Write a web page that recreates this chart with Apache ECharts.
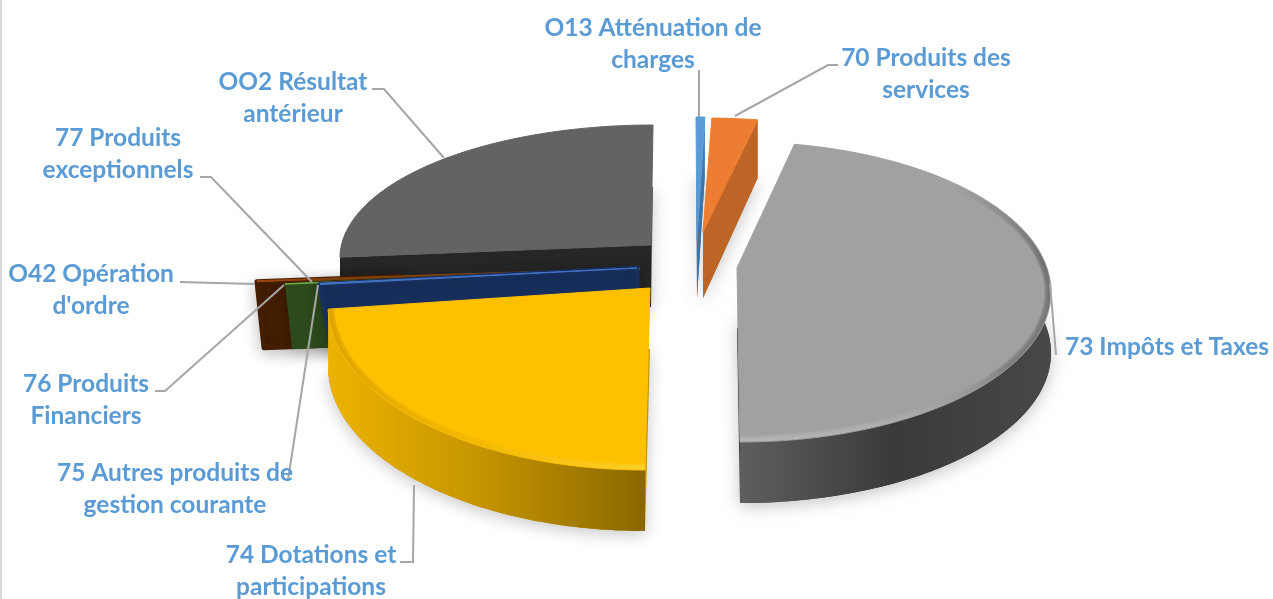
<!DOCTYPE html>
<html><head><meta charset="utf-8">
<style>html,body{margin:0;padding:0;background:#fff}#c{width:1273px;height:599px}</style>
<script src="https://cdn.jsdelivr.net/npm/echarts@6/dist/echarts.min.js"></script>
</head><body><div id="c"></div>
<script>
// ---- data (share of total, %)
const categories = ["O13 Atténuation de charges","70 Produits des services","73 Impôts et Taxes","74 Dotations et participations","75 Autres produits de gestion courante","76 Produits Financiers","O42 Opération d'ordre","77 Produits exceptionnels","OO2 Résultat antérieur"];
const shares = [0.45,2.35,47.2,24.6,0.2,0.1,0.15,0.05,24.9];
const labelLines = [["O13 Atténuation de","charges"],["70 Produits des","services"],["73 Impôts et Taxes"],["74 Dotations et","participations"],["75 Autres produits de","gestion courante"],["76 Produits","Financiers"],["O42 Opération","d'ordre"],["77 Produits","exceptionnels"],["OO2 Résultat","antérieur"]];

// ---- layout and styles (separate from the values)
const drawOrder = [8,6,7,5,4,3,0,1,2];
const geom = [
 {ax:697,ay:240,cx:696,cy:241,rx:313,ry:124,h:58,skew:0,top:'#5b9bd5',wall:'#3f78ad',cut:'end'},
 {ax:703,ay:232,cx:703,cy:238,rx:313,ry:120,h:66,hEnd:58,skew:0,top:'#ed7d31',wall:'#bd6427',cut:'end'},
 {ax:737,ay:268,cx:740,cy:292,rx:311,ry:150,h:61,skew:0,top:'#a1a1a1',wall:['#5e5e5e','#3a3a3a','#484848'],
  bevel:{dir:'v',stops:[[0,'rgba(70,70,70,0)'],[0.3,'rgba(70,70,70,0.38)'],[0.7,'rgba(70,70,70,0.25)'],[1,'rgba(255,255,255,0.12)']]}},
 {ax:650,ay:288,cx:645,cy:305,rx:317,ry:165,h:61,skew:0,top:'#ffc000',wall:['#eeb300','#c39300','#8a6800'],
  bevel:{dir:'h',stops:[[0,'rgba(205,150,0,0.55)'],[0.4,'rgba(225,170,0,0.3)'],[1,'rgba(255,225,90,0.35)']]}},
 {ax:637,ay:268,cx:635,cy:282,rx:315,ry:100,h:66,skew:12,top:'#4472c4',wall:'#162f5c',cut:'start',noFace:true,round:5},
 {ax:640,ay:269,wx:400,cx:640,cy:283,rx:355,ry:100,h:65,skew:7,top:'#70ad47',wall:'#2c4a1c',cut:'start',noFace:true},
 {ax:640,ay:268,wx:400,cx:640,cy:281,rx:383,ry:100,h:66,skew:7,top:'#9e480e',wall:'#431e02',cut:'start',noFace:true,round:5},
 {ax:640,ay:268,cx:640,cy:281,rx:328,ry:100,h:0,skew:0,top:'#7a4a10',wall:'#7a4a10'},
 {ax:651,ay:245,cx:653,cy:258,rx:313,ry:133,h:62,skew:0,top:'#636363',wall:'#262626',cut:'start',face:'#505050'}
];
const labelPos = [[653,44],[926,74],[1167,347],[311,571],[175,489],[86,400],[91,290],[118,154],[293,98]];
const leaders = [
 [[699,70],[699,117]],
 [[838,65],[828,65],[735,116]],
 [[1050,283],[1056,355]],
 [[400,562],[413,562],[414,485]],
 [[288,480],[318,285]],
 [[155,391],[165,391],[284,285]],
 [[180,282],[255,284]],
 [[200,177],[211,177],[312,282]],
 [[372,89],[384,89],[444,158]]
];

const total = shares.reduce((a,b)=>a+b,0);
const starts = []; let acc = 0;
shares.forEach(v=>{starts.push(acc); acc += v;});
const rad = p => p/total*2*Math.PI;
function rimPt(g,t){ return [g.cx+g.rx*Math.sin(t), g.cy-g.ry*Math.cos(t)]; }
function arc(g,a,b){
  const n = Math.max(2,Math.ceil((b-a)/(Math.PI/180)))+1, pts=[];
  for(let i=0;i<n;i++){ const t=a+(b-a)*i/(n-1); pts.push(rimPt(g,t)); }
  return pts;
}
const shadow = {shadowBlur:16,shadowColor:'rgba(0,0,0,0.22)',shadowOffsetY:4};
function wallFill(w){
  if(typeof w==='string') return w;
  return {type:'linear',x:0,y:0,x2:1,y2:0,colorStops:w.map((c,i)=>({offset:i/(w.length-1),color:c}))};
}
function renderSlice(params,api){
  const i = api.value(0), g = geom[i];
  const a = rad(starts[i]), b = a + rad(api.value(1));
  const rim = arc(g,a,b);
  const topFace = [[g.ax,g.ay]].concat(rim);
  const kids = [];
  const plain = typeof g.wall==='string' ? g.wall : g.wall[1];
  const he = g.hEnd||g.h;
  // soft cast shadow under the slice
  if(g.h>0 && !g.noFace){
    const face = [[g.ax,g.ay+g.h]].concat(rim.map(p=>[p[0],p[1]+he]));
    kids.push({type:'polygon',shape:{points:face},style:Object.assign({fill:g.face||plain},shadow)});
  }
  // outer wall on the part of the rim that faces the viewer
  const fa = Math.max(a,Math.PI/3), fb = Math.min(b,Math.PI*1.5+0.2);
  if(fb>fa && g.h>0 && !g.noFace){
    const front = arc(g,fa,fb);
    const low = front.map(p=>[p[0],p[1]+g.h]).reverse();
    kids.push({type:'polygon',shape:{points:front.concat(low)},style:{fill:wallFill(g.wall)}});
  }
  // wall of the straight cut
  if(g.cut && g.h>0){
    const e = g.cut==='end'?rim[rim.length-1]:rim[0];
    let sx = g.ax, sy = g.ay;
    if(g.wx){ sy = g.ay+(e[1]-g.ay)*(g.wx-g.ax)/(e[0]-g.ax); sx = g.wx; }
    const st = g.noFace ? shadow : {};
    kids.push({type:'polygon',shape:{points:[[sx,sy],e,[e[0]+g.skew,e[1]+he],[sx,sy+g.h]]},
      style:Object.assign({fill:plain,stroke:g.round?plain:null,lineWidth:g.round||0,lineJoin:'round'},st)});
  }
  kids.push({type:'polygon',shape:{points:topFace},style:{fill:g.top,stroke:g.top,lineWidth:1,lineJoin:'round'}});
  if(g.bevel){
    const from = Math.max(a,Math.PI/4);
    const grad = {type:'linear',x:0,y:0,x2:g.bevel.dir==='h'?1:0,y2:g.bevel.dir==='h'?0:1,
      colorStops:g.bevel.stops.map(s=>({offset:s[0],color:s[1]}))};
    [[3,11],[2.5,7],[1.5,3]].forEach(l=>{
      const inner = Object.assign({},g,{rx:g.rx-l[0]-0.5,ry:g.ry-l[0]-0.5});
      kids.push({type:'polyline',shape:{points:arc(inner,from,b)},style:{fill:null,stroke:grad,lineWidth:l[1]>3?l[0]*2:3,opacity:0.6}});
    });
  }
  return {type:'group',children:kids};
}
function renderLabel(params,api){
  const i = api.value(0), pos = labelPos[i];
  return {type:'group',children:[
    {type:'polyline',shape:{points:leaders[i]},style:{fill:null,stroke:'#a6a6a6',lineWidth:2}},
    {type:'text',style:{text:labelLines[i].join('\n'),x:pos[0],y:pos[1],align:'center',verticalAlign:'middle',
      fill:'#5b9bd5',font:'bold 24.5px Lato',lineHeight:32}}
  ]};
}
const chart = echarts.init(document.getElementById('c'),null,{renderer:'canvas'});
chart.setOption({
  animation:false,
  backgroundColor:'#fff',
  graphic:[{type:'rect',shape:{x:0,y:0,width:2,height:599},style:{fill:'#d9d9d9'},silent:true}],
  series:[
    {type:'custom',coordinateSystem:'none',renderItem:renderSlice,silent:true,clip:false,
     data:drawOrder.map(i=>[i,shares[i]])},
    {type:'custom',coordinateSystem:'none',renderItem:renderLabel,silent:true,clip:false,z:5,
     data:categories.map((c,i)=>({name:c,value:[i]}))}
  ]
});
</script></body></html>
